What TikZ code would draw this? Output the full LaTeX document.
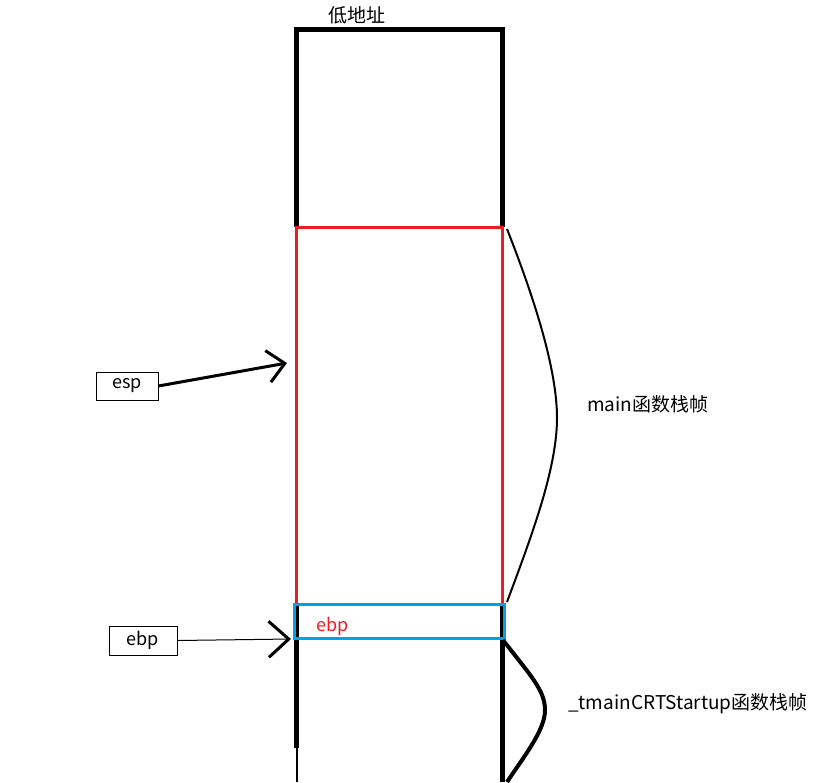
\documentclass[tikz,border=0pt]{standalone}
\usepackage{fontspec}
\setmainfont{Noto Sans CJK SC}
\usepackage{xcolor}
\usetikzlibrary{arrows.meta}
\definecolor{framered}{RGB}{237, 28, 36}
\definecolor{ebpblue}{RGB}{0, 162, 232}

\begin{document}
\begin{tikzpicture}[x=1pt, y=-1pt,
    regbox/.style={draw, line width=0.8pt, inner sep=0pt, font=\fontsize{18}{18}\selectfont},
    label/.style={anchor=west, inner sep=0pt, font=\fontsize{19}{19}\selectfont}]
    \useasboundingbox (0,0) rectangle (832,782);
    % stack column
    \draw[line width=5pt] (296,227) -- (296,29) -- (502,29) -- (502,227);
    \draw[line width=5pt] (296,604) -- (296,748);
    \draw[line width=5pt] (502,604) -- (502,782);
    \draw[line width=2pt] (297,748) -- (297,782);
    \node[label] (low) at (328,15) {低地址};
    % frame of main
    \draw[framered, line width=3pt] (296,227) rectangle (502,604);
    \draw[ebpblue, line width=3pt] (294,604) rectangle (504,638);
    \node[label, text=framered, font=\fontsize{18}{18}\selectfont] (saved) at (316,626) {ebp};
    % braces on the right
    \draw[line width=2pt] (507,229) .. controls (535,300) and (557,370) .. (557,418)
        .. controls (557,470) and (530,540) .. (507,602);
    \draw[line width=4pt] (503,640) .. controls (530,675) and (545,690) .. (545,710)
        .. controls (545,730) and (525,755) .. (507,782);
    \node[label] (mainlbl) at (587,404) {main函数栈帧};
    \node[label] (startlbl) at (568,704) {\_tmainCRTStartup函数栈帧};
    % registers
    \node[regbox, minimum width=62pt, minimum height=28pt] (esp) at (127,386) {esp};
    \node[regbox, minimum width=68pt, minimum height=29pt] (ebp) at (143,640.5) {ebp};
    \coordinate (espTip) at (287,363);
    \coordinate (ebpTip) at (291,639);
    \draw[line width=3pt, -{Straight Barb[length=17pt, width=32pt]}] (esp.east) -- (espTip);
    \draw[line width=1pt, -{Straight Barb[length=20pt, width=36pt, line width=3pt]}] (ebp.east) -- (ebpTip);
\end{tikzpicture}
\end{document}
